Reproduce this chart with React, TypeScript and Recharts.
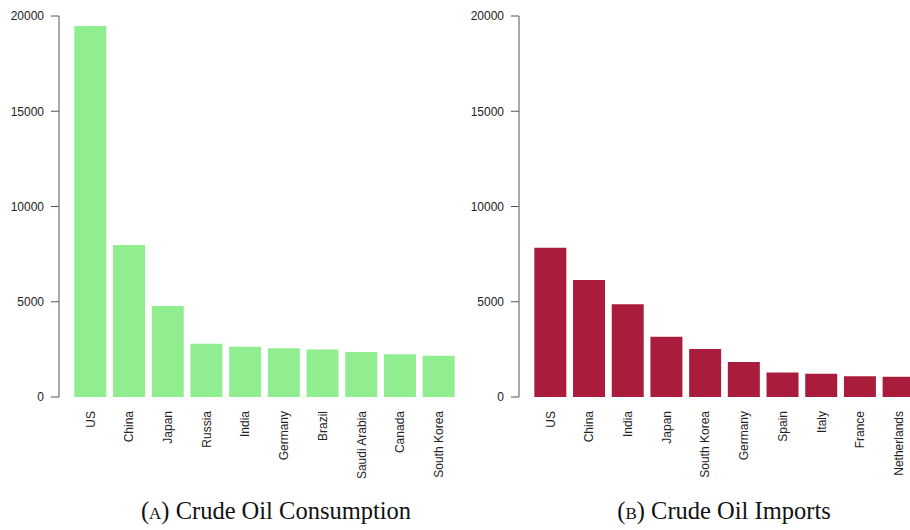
import React from 'react';
import { BarChart, Bar, XAxis, YAxis } from 'recharts';

const consumptionCountries = ['US', 'China', 'Japan', 'Russia', 'India', 'Germany', 'Brazil', 'Saudi Arabia', 'Canada', 'South Korea'];
const consumptionValues = [19480, 7980, 4780, 2800, 2640, 2555, 2500, 2360, 2240, 2170];

const importCountries = ['US', 'China', 'India', 'Japan', 'South Korea', 'Germany', 'Spain', 'Italy', 'France', 'Netherlands'];
const importValues = [7830, 6140, 4865, 3165, 2520, 1840, 1280, 1225, 1085, 1065];

const yTicks = [0, 5000, 10000, 15000, 20000];

const toRows = (names: string[], values: number[]) =>
  names.map((country, i) => ({ country, value: values[i] }));

const RotatedTick = ({ x, y, payload }: any) => (
  <text
    x={x}
    y={y}
    dy="0.36em"
    transform={`rotate(-90, ${x}, ${y})`}
    textAnchor="end"
    fontSize={12}
    fontFamily="'Liberation Sans', Arial, sans-serif"
    fill="#222"
  >
    {payload.value}
  </text>
);

interface PanelProps {
  names: string[];
  values: number[];
  color: string;
  left: number;
  label: string;
  title: string;
  captionX: number;
}

function Panel({ names, values, color, left, label, title, captionX }: PanelProps) {
  const data = toRows(names, values);
  return (
    <>
      <div style={{ position: 'absolute', left, top: 0 }}>
        <BarChart
          width={460}
          height={480}
          data={data}
          margin={{ top: 16, right: 2, left: 0, bottom: 0 }}
          barCategoryGap="8.6%"
        >
          <XAxis
            dataKey="country"
            axisLine={false}
            tickLine={false}
            interval={0}
            height={83}
            tickMargin={8}
            padding={{ left: 12, right: 0 }}
            tick={<RotatedTick />}
          />
          <YAxis
            width={59}
            domain={[0, 20000]}
            ticks={yTicks}
            stroke="#555"
            tickSize={8}
            tickMargin={7}
            tick={{ fontSize: 12, fill: '#222', fontFamily: "'Liberation Sans', Arial, sans-serif" }}
          />
          <Bar dataKey="value" fill={color} isAnimationActive={false} />
        </BarChart>
      </div>
      <div
        style={{
          position: 'absolute',
          left: captionX - 200,
          width: 400,
          top: 497,
          textAlign: 'center',
          fontFamily: "'Liberation Serif', 'Times New Roman', serif",
          fontSize: 24.5,
          color: '#111',
          whiteSpace: 'nowrap',
        }}
      >
        (<span style={{ fontVariant: 'small-caps' }}>{label}</span>) {title}
      </div>
    </>
  );
}

export default function App() {
  return (
    <div
      style={{
        position: 'fixed',
        left: 0,
        top: 0,
        width: 910,
        height: 530,
        overflow: 'hidden',
        background: '#fff',
      }}
    >
      <Panel
        names={consumptionCountries}
        values={consumptionValues}
        color="#90EE90"
        left={0}
        label="a"
        title="Crude Oil Consumption"
        captionX={276}
      />
      <Panel
        names={importCountries}
        values={importValues}
        color="#AA1C3C"
        left={460}
        label="b"
        title="Crude Oil Imports"
        captionX={724}
      />
    </div>
  );
}
